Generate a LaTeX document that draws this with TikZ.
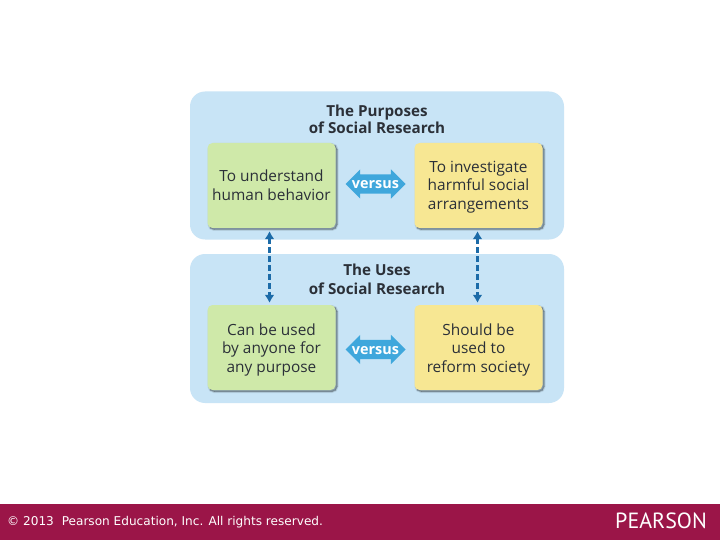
\documentclass[tikz,border=0pt]{standalone}
\usepackage{fontspec}
\setmainfont{Open Sans}
\newfontfamily\footfont{DejaVu Sans}
\newfontfamily\logofont{PT Sans}
\usetikzlibrary{arrows.meta,shapes.arrows}
\definecolor{panelblue}{HTML}{C8E4F6}
\definecolor{greenbox}{HTML}{CFE9A9}
\definecolor{yellowbox}{HTML}{F7E793}
\definecolor{arrowblue}{HTML}{3FA7DC}
\definecolor{linkblue}{HTML}{1C6BA8}
\definecolor{barred}{HTML}{9B1548}
\definecolor{inktext}{HTML}{2B3038}
\newcommand{\cardtop}[1]{\rule{0pt}{#1pt}}
\tikzset{
  softshade/.style={preaction={draw=black,fill=black,opacity=.07,line width=#1,transform canvas={shift={(1.5pt,-1.5pt)}}}},
  panel/.style={fill=panelblue,draw=none,rounded corners=15pt,minimum width=374pt,anchor=center,inner sep=0pt},
  card/.style={draw=none,rounded corners=5pt,minimum width=128pt,minimum height=85pt,align=center,inner sep=0pt,
    text=inktext,font=\fontsize{15.4}{18.6}\selectfont,softshade=3pt,softshade=2pt,softshade=1pt,softshade=0pt},
  heading/.style={align=center,text=inktext,font=\fontsize{15.2}{17}\selectfont\bfseries,inner sep=0pt},
  vs/.style={fill=arrowblue,draw=none,shape=double arrow,double arrow head extend=5pt,double arrow tip angle=90,
    minimum width=29pt,minimum height=60pt,inner sep=0pt},
  vslabel/.style={inner sep=0pt,text=white,font=\fontsize{14.4}{14}\selectfont\bfseries},
  link/.style={draw=linkblue,line width=2.8pt,dash pattern=on 6pt off 3pt,{Latex[length=8pt,width=10pt]}-{Latex[length=8pt,width=10pt]}},
}
\begin{document}
\begin{tikzpicture}[x=1pt,y=-1pt]
\useasboundingbox (0,0) rectangle (720,540);
\fill[white] (0,0) rectangle (720,540);
\node[panel,minimum height=148pt] (top) at (377,165.5) {};
\node[panel,minimum height=149pt] (bot) at (377,328.5) {};
\node[heading] (h1) at (377,119) {The Purposes\\of Social Research};
\node[heading] (h2) at (377,279.5) {The Uses\\[2pt]of Social Research};
\node[card,fill=greenbox] (a) at (271.5,185.5) {To understand\\human behavior};
\node[card,fill=yellowbox] (b) at (478.5,185.5) {\cardtop{14}To investigate\\harmful social\\arrangements};
\node[card,fill=greenbox] (c) at (271.5,347.5) {\cardtop{16}Can be used\\by anyone for\\any purpose};
\node[card,fill=yellowbox] (d) at (478.5,347.5) {\cardtop{16}Should be\\used to\\reform society};
\node[vs] (v1) at (375.5,184) {\rule{0pt}{19pt}};
\node[vs] (v2) at (375.5,349.5) {\rule{0pt}{19pt}};
\node[vslabel,anchor=base] (t1) at ([yshift=-5pt]v1.center) {versus};
\node[vslabel,anchor=base] (t2) at ([yshift=-5pt]v2.center) {versus};
\coordinate (a1) at ([xshift=-2pt,yshift=-3pt]a.south);
\coordinate (b1) at ([xshift=-1pt,yshift=-3pt]b.south);
\draw[link] (a1) -- ([yshift=2pt]a1 |- c.north);
\draw[link] (b1) -- ([yshift=2pt]b1 |- d.north);
\fill[barred] (0,504) rectangle (720,540);
\node[anchor=west,inner sep=0pt,text=white,font=\footfont\fontsize{12.1}{14}\selectfont] (foot) at (7,522.5) {© 2013\hspace{4pt} Pearson Education, Inc. All rights reserved.};
\node[anchor=east,inner sep=0pt,text=white,font=\logofont\fontsize{22}{22}\selectfont] (logo) at (707,520.5) {PEARSON};
\end{tikzpicture}
\end{document}
